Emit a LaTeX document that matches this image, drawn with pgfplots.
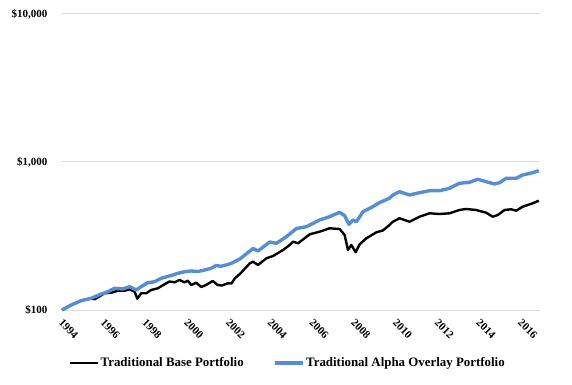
\documentclass[border=0pt]{standalone}
\usepackage{graphicx}
\usepackage{pgfplots}
\pgfplotsset{compat=1.18}
\usepackage{fontspec}
\setmainfont{Liberation Serif}
\definecolor{blueline}{RGB}{85,142,213}
\definecolor{gridgray}{RGB}{217,217,217}
\newcommand{\rl}[1]{\rotatebox{-45}{#1}}

\begin{document}
\begin{tikzpicture}
\useasboundingbox (0,0) rectangle (572pt,384pt);
\begin{axis}[
  at={(62pt,74pt)}, anchor=south west,
  scale only axis, width=478pt, height=296pt,
  ymode=log, log basis y=10, ymin=100, ymax=10000,
  xmin=1994, xmax=2016.9,
  ytick={100,1000,10000}, yticklabels={\$100,{\$1,000},{\$10,000}},
  xtick={1994,1996,1998,2000,2002,2004,2006,2008,2010,2012,2014,2016},
  xticklabels={\rl{1994},\rl{1996},\rl{1998},\rl{2000},\rl{2002},\rl{2004},\rl{2006},\rl{2008},\rl{2010},\rl{2012},\rl{2014},\rl{2016}},
  axis line style={draw=none},
  major tick length=0pt, minor tick length=0pt,
  ymajorgrids, yminorgrids=false,
  grid style={gridgray, line width=1pt},
  tick label style={font=\fontsize{11}{13}\selectfont\bfseries},
  y tick label style={anchor=east, xshift=-11pt},
  x tick label style={anchor=north west, inner sep=0pt, xshift=-4pt, yshift=-8pt},
  legend style={at={(0.4718,-0.179)}, anchor=center, draw=none, fill=none,
    legend columns=2, font=\fontsize{12.9}{14}\selectfont\bfseries,
    nodes={inner sep=1pt},
    /tikz/every odd column/.append style={column sep=0pt},
    /tikz/every even column/.append style={column sep=29pt},
    inner sep=0pt},
  legend image code/.code={\draw[#1] (0pt,0pt) -- (28pt,0pt);},
  clip=false,
]
\addplot[black, line width=2.4pt, line join=round] table {
1994.00 100.0
1994.44 108.1
1995.00 116.8
1995.40 120.0
1995.56 118.1
1996.04 129.7
1996.36 130.9
1996.68 135.0
1997.00 135.0
1997.24 138.0
1997.48 132.9
1997.61 119.1
1997.79 129.7
1998.03 129.7
1998.27 136.5
1998.59 140.2
1998.91 149.2
1999.15 155.8
1999.39 153.9
1999.63 159.5
1999.87 153.9
2000.03 157.8
2000.19 147.5
2000.43 152.9
2000.67 143.1
2000.90 147.5
2001.22 157.0
2001.46 147.5
2001.66 146.4
2001.94 151.5
2002.12 151.0
2002.28 163.7
2002.52 175.1
2003.00 206.8
2003.15 212.0
2003.39 201.5
2003.79 223.5
2004.11 231.6
2004.59 254.4
2004.91 274.9
2005.07 289.4
2005.31 282.3
2005.87 324.8
2006.34 338.2
2006.82 356.5
2007.30 352.6
2007.54 321.2
2007.70 254.4
2007.86 274.9
2008.07 245.4
2008.26 277.9
2008.58 305.1
2009.06 335.0
2009.37 344.5
2009.69 375.3
2009.85 395.0
2010.17 416.5
2010.65 395.0
2011.13 427.0
2011.61 450.2
2012.09 445.3
2012.56 450.2
2013.04 474.0
2013.36 481.4
2013.84 474.0
2014.32 454.4
2014.64 427.0
2014.88 438.5
2015.20 474.0
2015.52 479.2
2015.76 468.9
2016.07 498.9
2016.55 526.0
2016.84 547.7
};
\addlegendentry{Traditional Base Portfolio}
\addplot[blueline, line width=3.4pt, line join=round] table {
1994.00 100.0
1994.44 108.1
1994.92 115.6
1995.40 120.0
1995.88 128.3
1996.20 132.9
1996.52 140.2
1996.92 138.7
1997.24 143.7
1997.56 136.5
1997.79 143.7
1998.11 152.9
1998.44 155.3
1998.75 163.7
1999.23 171.1
1999.55 177.0
1999.87 181.5
2000.19 183.5
2000.51 182.0
2000.83 186.3
2001.14 191.3
2001.38 199.8
2001.62 197.4
2001.94 203.0
2002.12 206.8
2002.52 221.1
2003.15 260.4
2003.39 250.4
2003.95 288.1
2004.27 282.3
2004.75 312.8
2005.23 355.3
2005.71 365.4
2006.34 405.6
2006.82 427.0
2007.30 457.2
2007.54 433.8
2007.75 379.4
2007.94 405.6
2008.10 395.0
2008.42 461.6
2008.89 498.9
2009.22 532.6
2009.69 568.6
2009.85 598.4
2010.17 630.1
2010.65 598.4
2011.13 620.4
2011.61 640.0
2012.09 640.0
2012.56 664.3
2013.04 718.1
2013.52 729.3
2013.92 764.2
2014.32 736.2
2014.72 710.4
2014.96 724.8
2015.28 776.2
2015.76 776.2
2016.07 817.0
2016.55 846.8
2016.84 873.5
};
\addlegendentry{Traditional Alpha Overlay Portfolio}
\end{axis}
\end{tikzpicture}
\end{document}
